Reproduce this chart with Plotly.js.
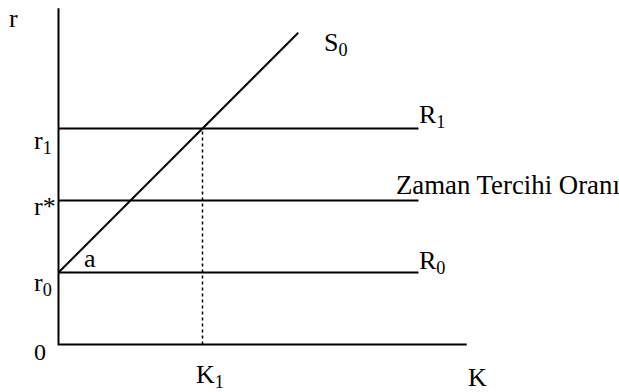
<!DOCTYPE html>
<html>
<head>
<meta charset="utf-8">
<script src="https://cdn.plot.ly/plotly-3.0.1.min.js"></script>
</head>
<body style="margin:0">
<div id="plot"></div>
<script>
// levels (in diagram units)
var r0 = 1, rStar = 2, r1 = 3;
var K1 = 2;

// axes
var axisX = [0, 0, 5.67];
var axisY = [4.67, 0, 0];

// S0 supply line
var s0X = [0, 3.33];
var s0Y = [1, 4.33];

// horizontal rate lines
var hX = [0, 5];
var R1Y = [r1, r1];
var starY = [rStar, rStar];
var R0Y = [r0, r0];

// K1 drop line
var dropX = [K1, K1];
var dropY = [0, r1];

var black = { color: '#000', width: 2 };

var traces = [
    { x: axisX, y: axisY, mode: 'lines', line: black },
    { x: s0X, y: s0Y, mode: 'lines', line: black },
    { x: hX, y: R1Y, mode: 'lines', line: black },
    { x: hX, y: starY, mode: 'lines', line: black },
    { x: hX, y: R0Y, mode: 'lines', line: black },
    { x: dropX, y: dropY, mode: 'lines', line: { color: '#000', width: 1.5, dash: 'dot' } }
];

var W = 619, H = 392;
function lab(text, px, py, anchor, size) {
    return {
        text: text, xref: 'paper', yref: 'paper',
        x: px / W, y: 1 - py / H,
        xanchor: anchor || 'left', yanchor: 'middle',
        showarrow: false,
        font: { family: 'Liberation Serif', size: size || 26, color: '#000' }
    };
}

var layout = {
    width: W, height: H,
    margin: { l: 0, r: 0, t: 0, b: 0 },
    showlegend: false,
    xaxis: { range: [-58.5 / 72, (W - 58.5) / 72], visible: false },
    yaxis: { range: [-(H - 344.5) / 72, 344.5 / 72], visible: false },
    annotations: [
        lab('r', 13, 18, 'center'),
        lab('r<sub>1</sub>', 32, 142),
        lab('r*', 32, 206),
        lab('r<sub>0</sub>', 32, 284),
        lab('0', 40, 352, 'center', 24),
        lab('a', 82, 258),
        lab('K<sub>1</sub>', 194, 376),
        lab('K', 466, 377),
        lab('S<sub>0</sub>', 322, 44),
        lab('R<sub>1</sub>', 417, 116),
        lab('Zaman Tercihi Oranı', 394, 185, 'left', 26.8),
        lab('R<sub>0</sub>', 417, 262)
    ]
};

Plotly.newPlot('plot', traces, layout, { displayModeBar: false });
</script>
</body>
</html>
